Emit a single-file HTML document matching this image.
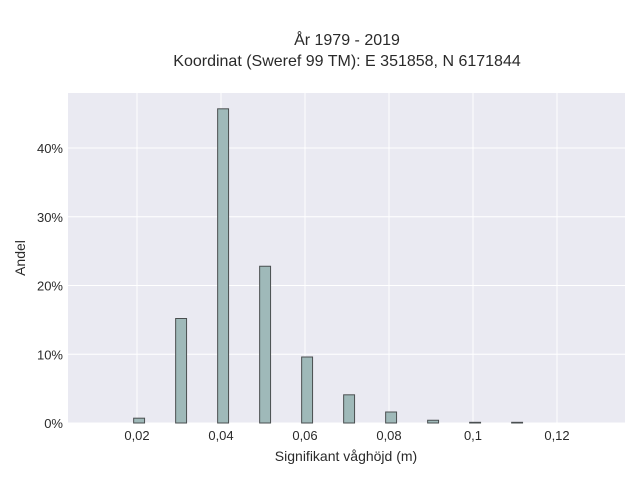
<!DOCTYPE html>
<html><head><meta charset="utf-8"><style>
body{margin:0;background:#fff;font-family:"Liberation Sans",sans-serif;}
svg text{font-family:"Liberation Sans",sans-serif;fill:#2a2a2a;}
</style></head><body>
<svg id="c" width="640" height="480">
<rect x="0" y="0" width="640" height="480" fill="#fff"/>
<text x="347" y="45" text-anchor="middle" font-size="16">År 1979 - 2019</text>
<text x="347" y="66" text-anchor="middle" font-size="16">Koordinat (Sweref 99 TM): E 351858, N 6171844</text>
<rect x="68" y="93" width="557" height="330" fill="#eaeaf2"/>
<g id="grid"></g><g id="bars"></g><g id="ticks"></g>
<text x="346" y="461" text-anchor="middle" font-size="14">Signifikant våghöjd (m)</text>
<text transform="translate(25,258) rotate(-90)" text-anchor="middle" font-size="14">Andel</text>
</svg>
<script>
const categories=[0.02,0.03,0.04,0.05,0.06,0.07,0.08,0.09,0.10,0.11];
const values=[0.7,15.2,45.7,22.8,9.6,4.1,1.6,0.4,0.1,0.1];
const xTicks=[0.02,0.04,0.06,0.08,0.1,0.12];
const xTickLabels=["0,02","0,04","0,06","0,08","0,1","0,12"];
const yTicks=[0,10,20,30,40];
const yTickLabels=["0%","10%","20%","30%","40%"];
const NS="http://www.w3.org/2000/svg";
const X=v=>53+v*4200;
const Y=p=>423-p*6.875;
const grid=document.getElementById('grid'),bars=document.getElementById('bars'),ticks=document.getElementById('ticks');
function mk(t,a,p){const e=document.createElementNS(NS,t);for(const k in a)e.setAttribute(k,a[k]);p.appendChild(e);return e;}
xTicks.forEach((v,i)=>{
const l=mk('line',{x1:X(v),x2:X(v),y1:93,y2:423,stroke:'#fff','stroke-width':1},grid);


const t=mk('text',{x:X(v),y:440,'text-anchor':'middle','font-size':13},ticks);
t.textContent=xTickLabels[i];


});
yTicks.forEach((v,i)=>{
const l=mk('line',{x1:68,x2:625,y1:Y(v),y2:Y(v),stroke:'#fff','stroke-width':1},grid);


const t=mk('text',{x:63,y:Y(v)+5,'text-anchor':'end','font-size':13},ticks);
t.textContent=yTickLabels[i];


});
categories.forEach((c,i)=>{
const x0=X(c-0.0008),w=0.0026*4200;
const r=mk('rect',{x:x0,y:Y(values[i]),width:w,height:Y(0)-Y(values[i]),fill:'#9fb9b9',stroke:'#4a4f50','stroke-width':1},bars);


});
</script>
</body></html>
